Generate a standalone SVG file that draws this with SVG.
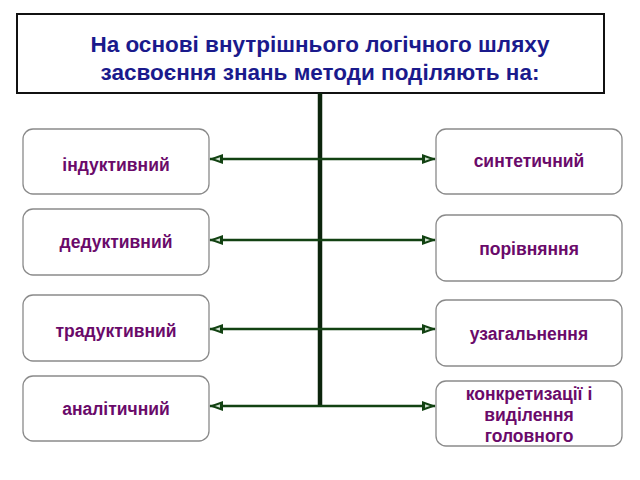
<svg xmlns="http://www.w3.org/2000/svg" width="640" height="480" viewBox="0 0 640 480">
<style>
.title{font-family:"Liberation Sans",Arial,sans-serif;font-weight:bold;font-size:22.5px;fill:#1a1a8c;text-anchor:middle}
.box{fill:#fff;stroke:#8a8a8a;stroke-width:1.3}
.lbl{font-family:"Liberation Sans",Arial,sans-serif;font-weight:bold;font-size:17.5px;fill:#6a0a6a;text-anchor:middle}
.arr{stroke:#124212;stroke-width:2.5;fill:none;marker-start:url(#ah);marker-end:url(#ah)}
</style>
<defs>
<marker id="ah" viewBox="0 0 14 10" refX="13" refY="5" markerWidth="14" markerHeight="10" markerUnits="userSpaceOnUse" orient="auto-start-reverse">
<path d="M0,0 L14,5 L0,10 Z" fill="#124212"/>
<path d="M3,3.2 L8,5 L3,6.8 Z" fill="#cfe0cf"/>
</marker>
</defs>
<rect width="640" height="480" fill="#fff"/>
<g id="title">
<rect x="17" y="14" width="587" height="79" fill="#fff" stroke="#111" stroke-width="2"/>
<text class="title" x="320" y="52">На основі внутрішнього логічного шляху</text>
<text class="title" x="320" y="80">засвоєння знань методи поділяють на:</text>
</g>
<g id="connectors">
<line x1="320" y1="93" x2="320" y2="407" stroke="#0c240c" stroke-width="4.5"/>
<line class="arr" x1="210" y1="159" x2="435" y2="159"/>
<line class="arr" x1="210" y1="240" x2="435" y2="240"/>
<line class="arr" x1="210" y1="329" x2="435" y2="329"/>
<line class="arr" x1="210" y1="406" x2="435" y2="406"/>
</g>
<g id="n-induktyvnyi">
<rect class="box" x="23" y="129" width="186" height="65" rx="10"/>
<text class="lbl" x="116" y="171">індуктивний</text>
</g>
<g id="n-deduktyvnyi">
<rect class="box" x="23" y="209" width="186" height="66" rx="10"/>
<text class="lbl" x="116" y="248">дедуктивний</text>
</g>
<g id="n-traduktyvnyi">
<rect class="box" x="23" y="295" width="186" height="66" rx="10"/>
<text class="lbl" x="116" y="337">традуктивний</text>
</g>
<g id="n-analitychnyi">
<rect class="box" x="23" y="376" width="186" height="65" rx="10"/>
<text class="lbl" x="116" y="415">аналітичний</text>
</g>
<g id="n-syntetychnyi">
<rect class="box" x="436" y="129" width="186" height="65" rx="10"/>
<text class="lbl" x="529" y="167">синтетичний</text>
</g>
<g id="n-porivniannia">
<rect class="box" x="436" y="215" width="186" height="66" rx="10"/>
<text class="lbl" x="529" y="255">порівняння</text>
</g>
<g id="n-uzahalnennia">
<rect class="box" x="436" y="300" width="186" height="66" rx="10"/>
<text class="lbl" x="529" y="340">узагальнення</text>
</g>
<g id="n-konkretyzatsii">
<rect class="box" x="436" y="381" width="186" height="65" rx="10"/>
<text class="lbl" x="529" y="400">конкретизації і</text>
<text class="lbl" x="529" y="421">виділення</text>
<text class="lbl" x="529" y="442">головного</text>
</g>
</svg>
